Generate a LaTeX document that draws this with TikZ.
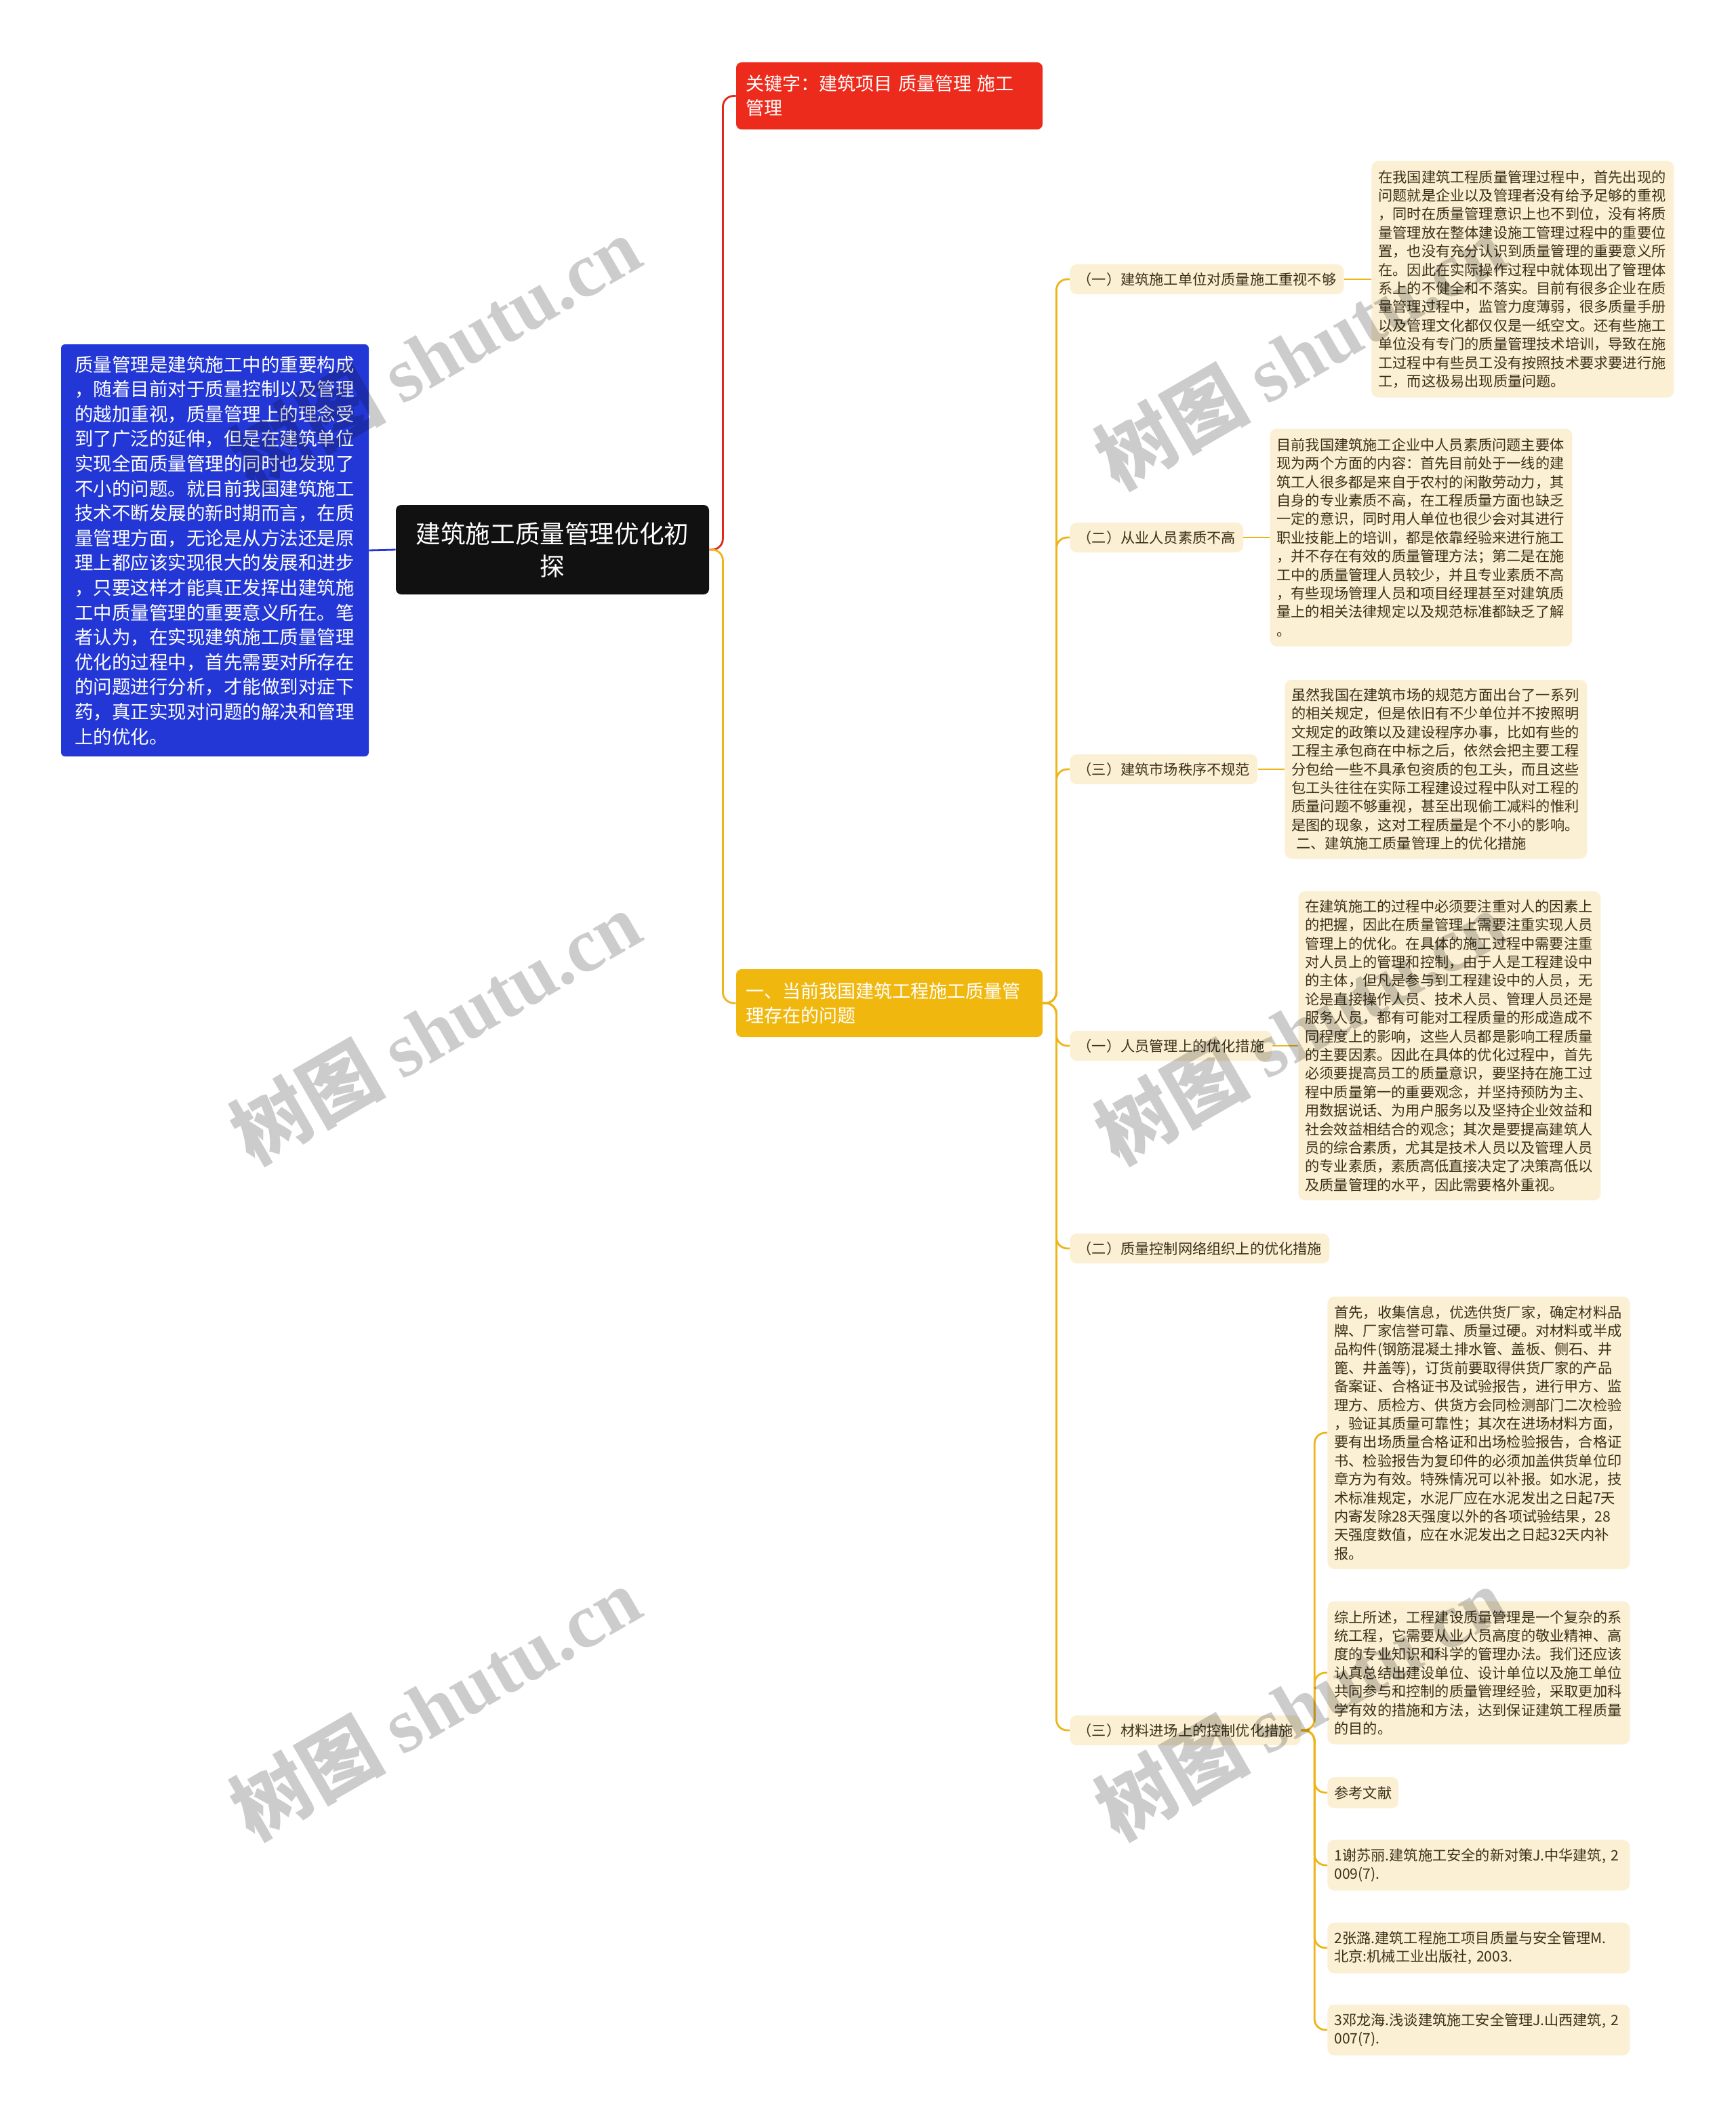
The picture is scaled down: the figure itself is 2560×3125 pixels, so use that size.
\documentclass[tikz,border=0pt]{standalone}
\usepackage{fontspec}
\setmainfont{Noto Sans CJK SC}
\newfontfamily\wmlat{Liberation Serif}
\definecolor{cream}{HTML}{FCF0D4}
\definecolor{txtc}{HTML}{3A3119}
\definecolor{gold}{HTML}{EDB51A}
\definecolor{ynode}{HTML}{F0B70E}
\definecolor{rnode}{HTML}{ED2B1C}
\definecolor{rline}{HTML}{E0281B}
\definecolor{bnode}{HTML}{2337D6}
\definecolor{cnode}{HTML}{111111}
\begin{document}
\begin{tikzpicture}[x=0.5pt,y=-0.5pt,
  leaf/.style={fill=cream, rounded corners=5pt, text=txtc,
    font=\fontsize{10.6pt}{13.7pt}\selectfont, inner xsep=5pt, inner ysep=0pt,
    align=left, text width=213pt, anchor=west},
  shortleaf/.style={fill=cream, rounded corners=5pt, text=txtc,
    font=\fontsize{10.6pt}{13.7pt}\selectfont, inner xsep=5pt, inner ysep=0pt,
    anchor=west},
  lab/.style={fill=cream, rounded corners=5pt, text=txtc,
    font=\fontsize{10.6pt}{13.7pt}\selectfont, inner xsep=5.6pt, inner ysep=0pt,
    minimum height=22pt, anchor=west},
  topic/.style={rounded corners=4pt, text=white,
    font=\fontsize{13.5pt}{18pt}\selectfont, inner xsep=7pt, inner ysep=0pt,
    align=left, text width=212pt},
  ylink/.style={draw=gold, line width=1.4pt, rounded corners=8pt},
  wm/.style={rotate=30, text=black, text opacity=0.2,
    font=\fontsize{57pt}{62pt}\selectfont\bfseries}
]
\fill[white] (0,0) rectangle (2560,3125);
\useasboundingbox (0,0) rectangle (2560,3125);

% main nodes
\node[fill=cnode, rounded corners=4pt, text=white, align=center,
  font=\fontsize{18.3pt}{24pt}\selectfont, minimum width=231pt, minimum height=66pt,
  inner sep=0pt] (C) at (815,811) {建筑施工质量管理优化初\\探};

\node[fill=bnode, rounded corners=3pt, text=white, align=left, text width=207pt,
  font=\fontsize{13.75pt}{18.3pt}\selectfont, inner xsep=10pt, inner ysep=0pt,
  minimum height=304pt] (B) at (317,812) {质量管理是建筑施工中的重要构成\\
，随着目前对于质量控制以及管理\\
的越加重视，质量管理上的理念受\\
到了广泛的延伸，但是在建筑单位\\
实现全面质量管理的同时也发现了\\
不小的问题。就目前我国建筑施工\\
技术不断发展的新时期而言，在质\\
量管理方面，无论是从方法还是原\\
理上都应该实现很大的发展和进步\\
，只要这样才能真正发挥出建筑施\\
工中质量管理的重要意义所在。笔\\
者认为，在实现建筑施工质量管理\\
优化的过程中，首先需要对所存在\\
的问题进行分析，才能做到对症下\\
药，真正实现对问题的解决和管理\\
上的优化。};

\node[topic, fill=rnode, minimum height=49.5pt] (R) at (1312,141.5)
  {关键字：建筑项目 质量管理 施工\\管理};
\node[topic, fill=ynode, minimum height=50pt] (Y) at (1312,1480)
  {一、当前我国建筑工程施工质量管\\理存在的问题};

% labels
\node[lab] (L1) at (1578,412) {（一）建筑施工单位对质量施工重视不够};
\node[lab] (L2) at (1578,793) {（二）从业人员素质不高};
\node[lab] (L3) at (1578,1135) {（三）建筑市场秩序不规范};
\node[lab] (L4) at (1578,1543) {（一）人员管理上的优化措施};
\node[lab] (L5) at (1578,1842) {（二）质量控制网络组织上的优化措施};
\node[lab] (L6) at (1578,2553) {（三）材料进场上的控制优化措施};

% leaves
\node[leaf, minimum height=174.5pt] (T1) at (2023,412) {在我国建筑工程质量管理过程中，首先出现的\\
问题就是企业以及管理者没有给予足够的重视\\
，同时在质量管理意识上也不到位，没有将质\\
量管理放在整体建设施工管理过程中的重要位\\
置，也没有充分认识到质量管理的重要意义所\\
在。因此在实际操作过程中就体现出了管理体\\
系上的不健全和不落实。目前有很多企业在质\\
量管理过程中，监管力度薄弱，很多质量手册\\
以及管理文化都仅仅是一纸空文。还有些施工\\
单位没有专门的质量管理技术培训，导致在施\\
工过程中有些员工没有按照技术要求要进行施\\
工，而这极易出现质量问题。};

\node[leaf, minimum height=160.5pt] (T2) at (1873,793) {目前我国建筑施工企业中人员素质问题主要体\\
现为两个方面的内容：首先目前处于一线的建\\
筑工人很多都是来自于农村的闲散劳动力，其\\
自身的专业素质不高，在工程质量方面也缺乏\\
一定的意识，同时用人单位也很少会对其进行\\
职业技能上的培训，都是依靠经验来进行施工\\
，并不存在有效的质量管理方法；第二是在施\\
工中的质量管理人员较少，并且专业素质不高\\
，有些现场管理人员和项目经理甚至对建筑质\\
量上的相关法律规定以及规范标准都缺乏了解\\
。};

\node[leaf, minimum height=132pt] (T3) at (1895,1135) {虽然我国在建筑市场的规范方面出台了一系列\\
的相关规定，但是依旧有不少单位并不按照明\\
文规定的政策以及建设程序办事，比如有些的\\
工程主承包商在中标之后，依然会把主要工程\\
分包给一些不具承包资质的包工头，而且这些\\
包工头往往在实际工程建设过程中队对工程的\\
质量问题不够重视，甚至出现偷工减料的惟利\\
是图的现象，这对工程质量是个不小的影响。\\
\ 二、建筑施工质量管理上的优化措施};

\node[leaf, minimum height=228pt] (T4) at (1915,1543) {在建筑施工的过程中必须要注重对人的因素上\\
的把握，因此在质量管理上需要注重实现人员\\
管理上的优化。在具体的施工过程中需要注重\\
对人员上的管理和控制，由于人是工程建设中\\
的主体，但凡是参与到工程建设中的人员，无\\
论是直接操作人员、技术人员、管理人员还是\\
服务人员，都有可能对工程质量的形成造成不\\
同程度上的影响，这些人员都是影响工程质量\\
的主要因素。因此在具体的优化过程中，首先\\
必须要提高员工的质量意识，要坚持在施工过\\
程中质量第一的重要观念，并坚持预防为主、\\
用数据说话、为用户服务以及坚持企业效益和\\
社会效益相结合的观念；其次是要提高建筑人\\
员的综合素质，尤其是技术人员以及管理人员\\
的专业素质，素质高低直接决定了决策高低以\\
及质量管理的水平，因此需要格外重视。};

\node[leaf, minimum height=201pt] (T5) at (1958,2114) {首先，收集信息，优选供货厂家，确定材料品\\
牌、厂家信誉可靠、质量过硬。对材料或半成\\
品构件(钢筋混凝土排水管、盖板、侧石、井\\
篦、井盖等)，订货前要取得供货厂家的产品\\
备案证、合格证书及试验报告，进行甲方、监\\
理方、质检方、供货方会同检测部门二次检验\\
，验证其质量可靠性；其次在进场材料方面，\\
要有出场质量合格证和出场检验报告，合格证\\
书、检验报告为复印件的必须加盖供货单位印\\
章方为有效。特殊情况可以补报。如水泥，技\\
术标准规定，水泥厂应在水泥发出之日起7天\\
内寄发除28天强度以外的各项试验结果，28\\
天强度数值，应在水泥发出之日起32天内补\\
报。};

\node[leaf, minimum height=105.5pt] (T6) at (1958,2468) {综上所述，工程建设质量管理是一个复杂的系\\
统工程，它需要从业人员高度的敬业精神、高\\
度的专业知识和科学的管理办法。我们还应该\\
认真总结出建设单位、设计单位以及施工单位\\
共同参与和控制的质量管理经验，采取更加科\\
学有效的措施和方法，达到保证建筑工程质量\\
的目的。};

\node[shortleaf, minimum height=23pt] (T7) at (1958,2645) {参考文献};
\node[leaf, minimum height=37.5pt] (T8) at (1958,2752) {1谢苏丽.建筑施工安全的新对策J.中华建筑,~2\\009(7).};
\node[leaf, minimum height=37.5pt] (T9) at (1958,2874) {2张潞.建筑工程施工项目质量与安全管理M.\\北京:机械工业出版社,~2003.};
\node[leaf, minimum height=37.5pt] (T10) at (1958,2995) {3邓龙海.浅谈建筑施工安全管理J.山西建筑,~2\\007(7).};

% connectors
\draw[draw=bnode, line width=1.4pt] (B.east) -- (C.west);
\draw[draw=rline, line width=1.4pt, rounded corners=8pt] (C.east) -- ++(20,0) |- (R.west);
\draw[ylink] (C.east) -- ++(20,0) |- (Y.west);
\foreach \n in {L1,L2,L3,L4,L5,L6}
  \draw[ylink] (Y.east) -- ++(20,0) |- (\n.west);
\draw[ylink] (L1.east) -- (T1.west);
\draw[ylink] (L2.east) -- (T2.west);
\draw[ylink] (L3.east) -- (T3.west);
\draw[ylink] (L4.east) -- (T4.west);
\foreach \n in {T5,T6,T7,T8,T9,T10}
  \draw[ylink] (L6.east) -- ++(20,0) |- (\n.west);

% watermarks
\node[wm] (wm1) at (642,520) {树图 {\wmlat shutu.cn}};
\node[wm] (wm2) at (642,1516) {树图 {\wmlat shutu.cn}};
\node[wm] (wm3) at (642,2513) {树图 {\wmlat shutu.cn}};
\node[wm] (wm4) at (1918,520) {树图 {\wmlat shutu.cn}};
\node[wm] (wm5) at (1918,1516) {树图 {\wmlat shutu.cn}};
\node[wm] (wm6) at (1918,2513) {树图 {\wmlat shutu.cn}};
\end{tikzpicture}
\end{document}
